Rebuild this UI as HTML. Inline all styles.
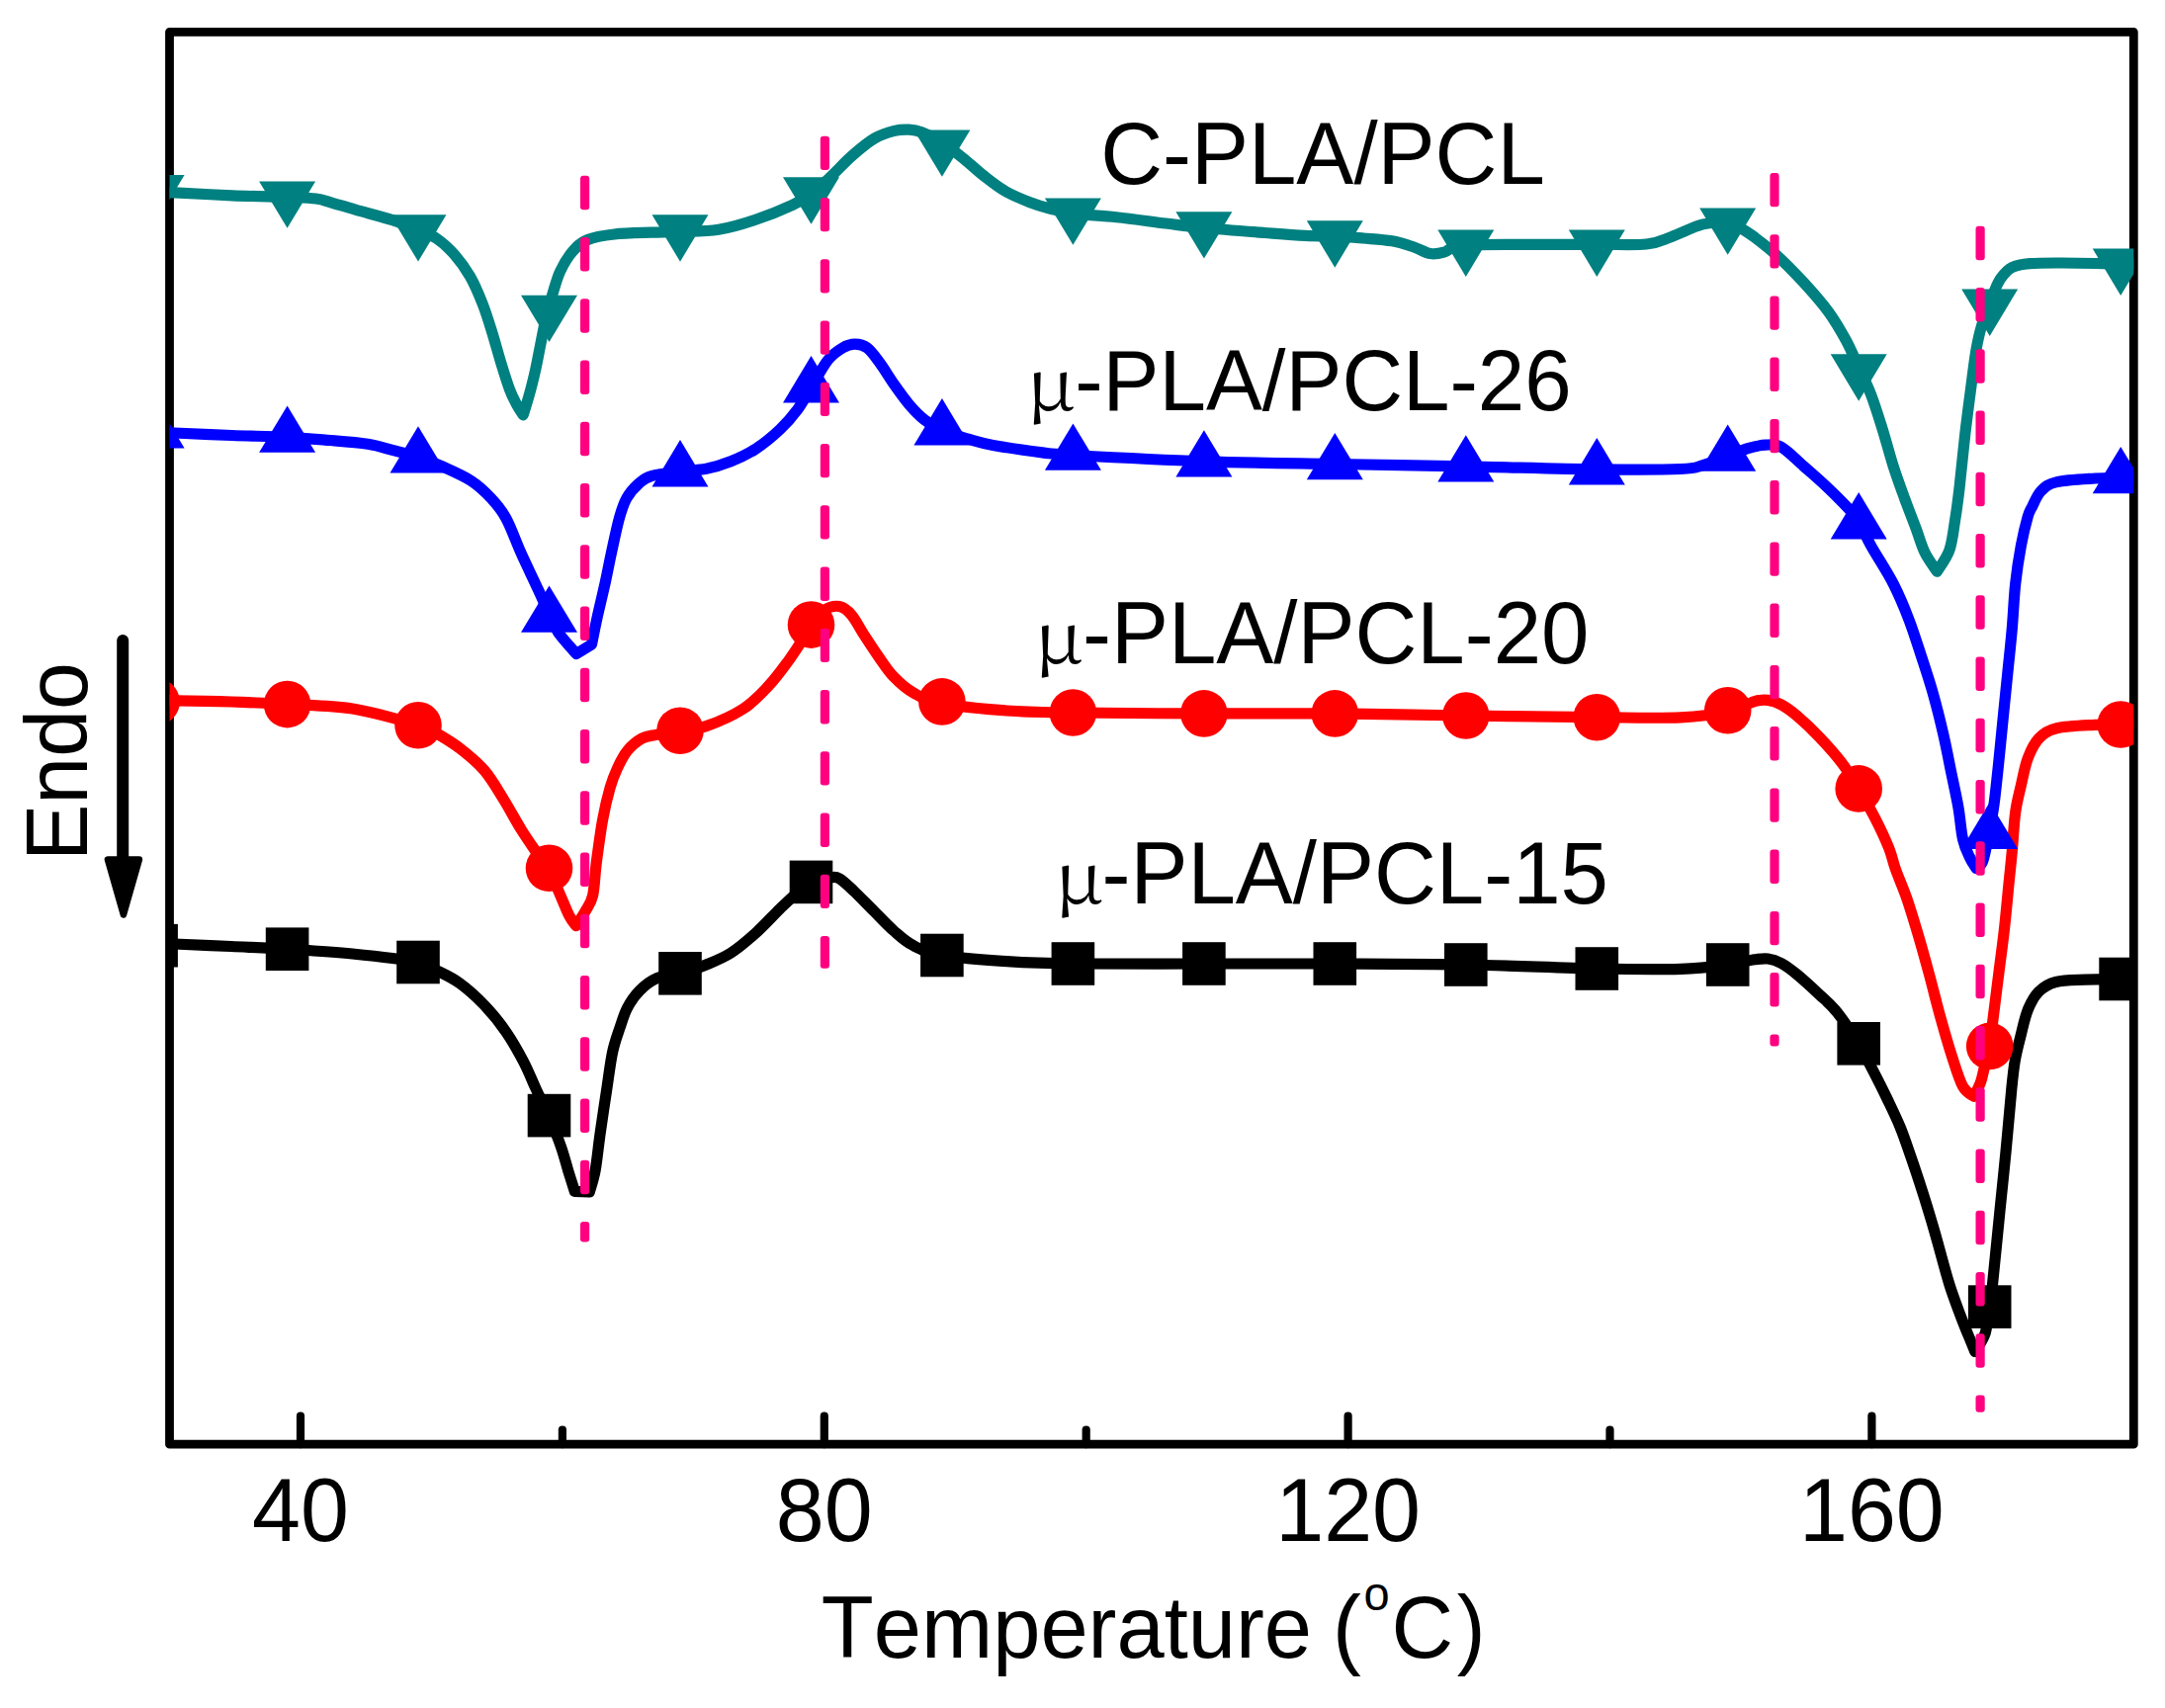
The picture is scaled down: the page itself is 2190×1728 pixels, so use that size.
<!DOCTYPE html>
<html><head><meta charset="utf-8"><title>DSC curves</title>
<style>
html,body{margin:0;padding:0;background:#fff;}
body{width:2190px;height:1728px;overflow:hidden;}
svg{display:block;}
svg text{font-family:"Liberation Sans",sans-serif;fill:#000;font-kerning:none;font-feature-settings:"kern" 0,"liga" 0;}
</style></head><body>
<svg width="2190" height="1728" viewBox="0 0 2190 1728">
<rect width="2190" height="1728" fill="#fff"/>
<rect x="171.5" y="32.3" width="1986.8000000000002" height="1428.9" fill="none" stroke="#000" stroke-width="8.8" stroke-linejoin="round"/>
<line x1="304.0" y1="1461.2" x2="304.0" y2="1432.7" stroke="#000" stroke-width="8.2" stroke-linecap="round"/>
<line x1="833.8" y1="1461.2" x2="833.8" y2="1432.7" stroke="#000" stroke-width="8.2" stroke-linecap="round"/>
<line x1="1363.6" y1="1461.2" x2="1363.6" y2="1432.7" stroke="#000" stroke-width="8.2" stroke-linecap="round"/>
<line x1="1893.4" y1="1461.2" x2="1893.4" y2="1432.7" stroke="#000" stroke-width="8.2" stroke-linecap="round"/>
<line x1="568.9" y1="1461.2" x2="568.9" y2="1446.6000000000001" stroke="#000" stroke-width="8.2" stroke-linecap="round"/>
<line x1="1098.7" y1="1461.2" x2="1098.7" y2="1446.6000000000001" stroke="#000" stroke-width="8.2" stroke-linecap="round"/>
<line x1="1628.5" y1="1461.2" x2="1628.5" y2="1446.6000000000001" stroke="#000" stroke-width="8.2" stroke-linecap="round"/>
<clipPath id="cp"><rect x="171.5" y="32.3" width="1986.8000000000002" height="1428.9"/></clipPath>
<g clip-path="url(#cp)">
<path d="M150.0,954.0C154.3,954.2 162.0,954.4 176.0,955.0C190.0,955.6 214.8,956.6 234.0,957.5C253.2,958.4 270.6,959.0 291.0,960.2C311.4,961.5 334.4,962.8 356.5,965.0C378.6,967.2 409.6,970.8 423.5,973.5C437.4,976.2 433.1,977.5 440.0,981.0C446.9,984.5 456.7,988.7 465.0,994.7C473.3,1000.7 482.1,1008.7 490.0,1017.0C497.9,1025.3 505.7,1035.0 512.3,1044.6C518.9,1054.2 524.8,1064.9 529.8,1074.5C534.8,1084.1 538.1,1093.0 542.3,1102.0C546.5,1111.0 550.8,1119.0 554.9,1128.6C559.0,1138.1 563.9,1150.0 567.2,1159.3C570.5,1168.6 572.4,1176.6 574.7,1184.3C577.1,1192.0 580.3,1202.1 581.3,1205.3C583.5,1205.4 594.0,1205.9 596.3,1206.0C597.2,1202.7 600.3,1194.1 602.1,1184.3C603.9,1174.5 605.2,1160.2 607.1,1146.9C609.0,1133.6 611.3,1118.1 613.4,1104.4C615.5,1090.7 617.3,1075.3 619.6,1064.5C621.9,1053.7 624.6,1047.1 627.1,1039.6C629.6,1032.1 631.3,1025.8 634.6,1019.6C637.9,1013.4 642.0,1007.2 647.0,1002.2C652.0,997.2 657.7,992.6 664.5,989.7C671.3,986.8 679.7,987.1 688.0,984.8C696.3,982.5 705.9,979.5 714.4,976.0C722.9,972.5 731.0,969.4 739.3,964.1C747.6,958.8 756.0,951.6 764.3,944.1C772.6,936.6 782.1,926.1 789.2,919.2C796.3,912.4 801.5,907.4 806.7,903.0C811.9,898.6 815.0,895.5 820.4,893.0C825.8,890.5 834.3,888.7 839.1,888.0C843.9,887.3 845.0,886.5 849.1,888.8C853.2,891.1 858.2,896.2 864.0,901.7C869.8,907.2 877.3,915.1 884.0,921.7C890.7,928.4 897.4,935.8 904.0,941.6C910.6,947.4 915.6,952.5 923.9,956.6C932.1,960.8 937.7,963.8 953.5,966.5C969.3,969.2 996.5,971.2 1018.5,972.6C1040.5,974.0 1052.4,974.6 1085.6,975.0C1118.8,975.4 1173.4,975.0 1217.5,975.0C1261.6,975.0 1305.8,974.8 1350.0,975.0C1394.2,975.2 1438.2,975.2 1482.4,976.0C1526.6,976.8 1578.6,979.3 1614.9,980.0C1651.2,980.7 1677.9,981.0 1700.0,980.3C1722.1,979.6 1735.1,977.6 1747.6,976.0C1760.1,974.4 1768.0,971.8 1774.8,970.8C1781.6,969.8 1783.9,969.4 1788.4,970.0C1792.9,970.6 1797.1,972.0 1802.0,974.6C1806.9,977.2 1811.4,980.6 1817.8,985.9C1824.2,991.2 1833.7,999.9 1840.5,1006.3C1847.3,1012.7 1852.0,1016.2 1858.6,1024.4C1865.2,1032.7 1873.9,1046.0 1879.9,1055.8C1885.9,1065.6 1890.0,1074.2 1894.8,1083.3C1899.5,1092.4 1903.9,1101.0 1908.4,1110.5C1912.9,1120.0 1917.8,1129.8 1922.0,1140.0C1926.2,1150.2 1929.6,1160.8 1933.4,1171.7C1937.2,1182.7 1941.3,1195.2 1944.7,1205.7C1948.1,1216.2 1951.1,1226.2 1953.7,1235.0C1956.3,1243.8 1957.5,1248.0 1960.5,1258.7C1963.5,1269.5 1968.1,1287.4 1971.9,1299.5C1975.7,1311.6 1979.8,1322.1 1983.2,1331.2C1986.6,1340.3 1989.8,1347.9 1992.3,1353.9C1994.8,1360.0 1997.1,1365.5 1997.9,1367.5C1999.4,1364.7 2005.9,1355.9 2008.2,1348.7C2010.5,1341.5 2010.6,1332.4 2011.8,1324.2C2013.0,1316.0 2013.7,1316.0 2015.5,1299.6C2017.3,1283.2 2020.6,1248.3 2022.9,1225.8C2025.2,1203.3 2027.1,1184.9 2029.1,1164.4C2031.1,1143.9 2033.2,1118.1 2034.7,1102.9C2036.2,1087.7 2036.7,1082.4 2038.2,1073.4C2039.7,1064.4 2041.6,1057.4 2043.8,1048.8C2046.0,1040.2 2048.1,1029.4 2051.2,1021.8C2054.3,1014.2 2057.5,1008.1 2062.2,1003.4C2066.9,998.7 2071.7,995.5 2079.5,993.5C2087.3,991.5 2098.1,991.6 2109.0,991.1C2119.9,990.6 2133.4,990.6 2145.2,990.5C2157.0,990.4 2174.2,990.5 2180.0,990.5" fill="none" stroke="#000000" stroke-width="11.2" stroke-linejoin="round" stroke-linecap="butt"/>
<g fill="#000000"><rect x="136.3" y="934.9" width="43.6" height="43.6"/><rect x="268.8" y="938.4" width="43.6" height="43.6"/><rect x="401.2" y="951.7" width="43.6" height="43.6"/><rect x="533.7" y="1106.8" width="43.6" height="43.6"/><rect x="666.2" y="963.0" width="43.6" height="43.6"/><rect x="798.7" y="870.6" width="43.6" height="43.6"/><rect x="931.1" y="944.7" width="43.6" height="43.6"/><rect x="1063.6" y="953.2" width="43.6" height="43.6"/><rect x="1196.1" y="953.2" width="43.6" height="43.6"/><rect x="1328.5" y="953.2" width="43.6" height="43.6"/><rect x="1461.0" y="954.2" width="43.6" height="43.6"/><rect x="1593.5" y="958.2" width="43.6" height="43.6"/><rect x="1725.9" y="954.2" width="43.6" height="43.6"/><rect x="1858.4" y="1034.0" width="43.6" height="43.6"/><rect x="1990.9" y="1300.3" width="43.6" height="43.6"/><rect x="2123.3" y="968.7" width="43.6" height="43.6"/></g>
<path d="M150.0,708.5C154.3,708.5 162.0,708.5 176.0,708.8C190.0,709.0 214.8,709.4 234.0,710.0C253.2,710.6 270.6,711.4 291.0,712.6C311.4,713.8 334.4,713.5 356.5,717.0C378.6,720.5 409.9,729.8 423.8,733.8C437.7,737.8 433.1,737.1 440.0,741.0C446.9,744.9 456.7,750.6 465.0,757.0C473.3,763.4 482.5,770.8 490.0,779.5C497.5,788.2 503.6,799.4 509.8,809.4C516.0,819.4 521.9,830.7 527.3,839.4C532.7,848.1 537.6,855.0 542.3,861.8C547.0,868.6 551.2,872.5 555.4,880.0C559.5,887.5 563.8,898.9 567.2,906.7C570.6,914.5 573.3,921.7 575.9,926.7C578.5,931.7 581.7,935.2 582.7,936.7C584.1,934.5 589.4,926.8 592.2,921.7C595.0,916.6 597.7,914.3 599.6,906.0C601.5,897.7 601.7,884.6 603.4,871.8C605.1,859.0 607.3,841.9 609.6,829.4C611.9,816.9 614.6,805.7 617.1,797.0C619.6,788.3 621.7,783.2 624.6,777.0C627.5,770.8 630.5,764.5 634.6,759.5C638.8,754.5 644.5,749.7 649.5,747.0C654.5,744.3 658.1,744.6 664.5,743.3C670.9,742.0 679.5,740.7 687.8,739.2C696.1,737.8 703.7,738.3 714.4,734.6C725.1,730.9 741.4,723.8 751.8,717.1C762.2,710.5 769.2,702.6 776.7,694.7C784.2,686.8 790.9,677.6 796.7,669.7C802.5,661.8 807.7,653.6 811.7,647.3C815.8,641.0 817.3,637.1 821.0,632.1C824.7,627.1 829.4,620.2 834.1,617.1C838.8,614.0 844.5,612.7 849.1,613.6C853.7,614.5 857.4,617.6 861.5,622.4C865.6,627.2 869.4,635.2 874.0,642.3C878.6,649.4 884.0,657.7 889.0,664.8C894.0,671.9 898.2,678.7 904.0,684.7C909.8,690.7 915.8,696.4 923.9,700.9C932.0,705.4 937.0,708.5 952.8,711.5C968.6,714.5 996.4,717.4 1018.5,719.0C1040.6,720.6 1052.4,720.5 1085.6,721.0C1118.8,721.5 1173.4,721.8 1217.5,721.9C1261.6,722.0 1305.8,721.5 1350.0,721.9C1394.2,722.2 1438.2,723.4 1482.4,724.0C1526.6,724.6 1578.6,725.4 1614.9,725.7C1651.2,726.0 1677.9,726.8 1700.0,725.8C1722.1,724.8 1735.2,722.7 1747.7,720.0C1760.2,717.3 1768.0,711.5 1774.8,709.6C1781.6,707.7 1783.9,707.8 1788.4,708.4C1792.9,709.0 1797.1,710.4 1802.0,713.0C1806.9,715.6 1811.4,718.8 1817.8,724.3C1824.2,729.8 1833.0,737.9 1840.5,745.8C1848.0,753.7 1856.5,763.2 1863.1,771.9C1869.7,780.6 1874.4,788.5 1880.1,797.9C1885.8,807.3 1892.0,818.5 1897.1,828.5C1902.2,838.5 1907.3,849.5 1910.7,858.0C1914.1,866.5 1914.5,871.0 1917.5,879.5C1920.5,888.0 1925.0,897.9 1928.8,908.9C1932.6,919.9 1936.3,932.4 1940.1,945.2C1943.9,958.0 1947.7,971.9 1951.5,985.9C1955.3,999.9 1959.0,1015.4 1962.8,1029.0C1966.6,1042.6 1970.3,1055.8 1974.1,1067.5C1977.9,1079.2 1981.7,1092.2 1985.5,1099.2C1989.3,1106.2 1995.1,1107.9 1996.8,1109.4C1997.8,1107.2 2001.7,1100.2 2003.6,1094.7C2005.5,1089.2 2006.5,1082.6 2008.1,1076.6C2009.6,1070.5 2011.6,1066.0 2012.9,1058.4C2014.2,1050.8 2014.5,1043.3 2016.0,1031.2C2017.5,1019.1 2019.8,1001.0 2021.7,985.9C2023.6,970.8 2025.7,955.7 2027.4,940.6C2029.1,925.5 2030.6,908.5 2031.9,895.3C2033.2,882.1 2034.2,873.6 2035.3,861.3C2036.4,849.0 2037.2,832.8 2038.7,821.7C2040.2,810.6 2042.3,803.6 2044.4,794.5C2046.5,785.4 2048.2,775.2 2051.2,767.3C2054.2,759.4 2057.6,752.1 2062.5,747.0C2067.4,741.9 2071.2,739.1 2080.6,736.8C2090.0,734.5 2108.2,734.0 2119.0,733.4C2129.8,732.8 2135.4,733.1 2145.6,733.0C2155.8,732.9 2174.3,733.0 2180.0,733.0" fill="none" stroke="#ff0000" stroke-width="11.2" stroke-linejoin="round" stroke-linecap="butt"/>
<g fill="#ff0000"><circle cx="158.1" cy="710.0" r="23.8"/><circle cx="290.6" cy="712.6" r="23.8"/><circle cx="423.0" cy="733.8" r="23.8"/><circle cx="555.5" cy="878.3" r="23.8"/><circle cx="688.0" cy="739.2" r="23.8"/><circle cx="820.5" cy="632.1" r="23.8"/><circle cx="952.9" cy="709.9" r="23.8"/><circle cx="1085.4" cy="721.0" r="23.8"/><circle cx="1217.9" cy="721.9" r="23.8"/><circle cx="1350.3" cy="721.9" r="23.8"/><circle cx="1482.8" cy="724.0" r="23.8"/><circle cx="1615.3" cy="725.7" r="23.8"/><circle cx="1747.7" cy="718.8" r="23.8"/><circle cx="1880.2" cy="797.9" r="23.8"/><circle cx="2012.7" cy="1058.4" r="23.8"/><circle cx="2145.2" cy="733.0" r="23.8"/></g>
<path d="M150.0,437.5C154.4,437.6 162.1,437.5 176.2,438.0C190.3,438.5 215.7,439.8 234.8,440.5C253.9,441.2 274.0,441.5 290.6,442.3C307.2,443.1 321.0,444.4 334.6,445.5C348.2,446.6 361.6,447.6 372.0,449.2C382.4,450.8 388.4,453.1 397.0,455.4C405.6,457.7 415.1,460.1 423.4,462.8C431.7,465.5 438.0,467.7 446.9,471.7C455.8,475.7 468.5,481.2 476.8,486.6C485.1,492.0 490.9,497.8 496.7,504.0C502.5,510.2 506.6,514.7 511.7,524.0C516.8,533.3 521.8,547.8 527.3,560.0C532.8,572.2 540.1,587.2 544.8,597.4C549.5,607.6 552.1,613.9 555.4,621.0C558.7,628.1 560.1,633.0 564.7,639.8C569.3,646.5 580.3,658.2 583.0,661.5C585.3,660.1 596.2,653.4 598.5,652.0C599.4,647.6 602.3,632.7 604.6,622.4C606.9,612.1 609.8,600.4 612.1,590.0C614.4,579.6 615.9,571.0 618.3,560.0C620.7,549.0 623.9,533.3 626.5,524.0C629.1,514.7 630.6,509.8 633.9,504.0C637.2,498.2 642.2,492.7 646.4,489.0C650.6,485.3 652.1,483.6 658.9,481.6C665.7,479.6 678.1,478.2 687.4,477.0C696.6,475.8 705.8,476.0 714.4,474.3C723.0,472.6 731.0,470.1 739.3,466.8C747.6,463.5 756.0,459.7 764.3,454.3C772.6,448.9 782.1,441.0 789.2,434.3C796.3,427.6 801.5,421.4 806.7,414.4C811.9,407.3 815.3,400.3 820.4,392.0C825.5,383.7 832.1,371.1 837.4,364.4C842.7,357.7 847.7,354.7 852.3,352.0C856.9,349.3 860.6,348.2 864.8,348.2C869.0,348.2 873.1,348.9 877.3,352.0C881.5,355.1 885.2,360.7 889.8,366.9C894.4,373.1 899.7,382.2 904.7,389.3C909.7,396.4 914.7,403.5 919.7,409.3C924.7,415.1 929.2,419.9 934.7,424.3C940.2,428.7 945.4,432.2 952.9,435.5C960.4,438.8 971.0,441.7 979.6,444.2C988.2,446.7 992.0,448.1 1004.5,450.4C1017.0,452.7 1040.9,456.2 1054.4,457.9C1067.9,459.6 1058.4,459.0 1085.6,460.5C1112.8,462.0 1173.4,465.3 1217.5,466.8C1261.6,468.3 1305.8,468.7 1350.0,469.5C1394.2,470.3 1438.2,470.9 1482.4,471.8C1526.6,472.7 1578.6,474.4 1614.9,474.8C1651.2,475.2 1682.0,475.2 1700.0,474.5C1718.0,473.8 1714.8,472.8 1722.7,470.6C1730.6,468.4 1740.0,464.3 1747.6,461.5C1755.1,458.7 1761.6,455.5 1768.0,453.6C1774.4,451.7 1780.3,450.4 1786.0,450.2C1791.7,450.0 1795.6,448.8 1802.0,452.4C1808.4,456.0 1817.0,465.1 1824.6,471.7C1832.1,478.3 1839.7,484.8 1847.3,492.0C1854.9,499.2 1864.6,508.9 1870.0,514.7C1875.4,520.5 1876.0,520.8 1879.8,527.0C1883.6,533.2 1886.7,541.5 1892.6,552.1C1898.5,562.7 1908.8,578.1 1915.2,590.6C1921.6,603.1 1926.1,614.1 1931.0,626.9C1935.9,639.7 1940.5,654.8 1944.7,667.6C1948.9,680.4 1952.4,691.0 1956.0,703.9C1959.6,716.8 1963.2,731.5 1966.2,744.7C1969.2,757.9 1971.6,771.1 1974.1,783.2C1976.6,795.3 1979.1,806.2 1981.0,817.2C1982.9,828.2 1983.6,840.6 1985.5,848.9C1987.4,857.2 1990.0,862.1 1992.3,867.0C1994.5,871.9 1998.0,876.8 1999.0,878.5C2000.0,877.4 2003.5,877.5 2005.8,871.0C2008.1,864.5 2010.7,849.5 2012.6,839.8C2014.5,830.1 2015.7,823.9 2017.2,812.6C2018.7,801.3 2020.2,786.2 2021.7,771.9C2023.2,757.6 2024.7,741.7 2026.2,726.6C2027.7,711.5 2029.3,696.3 2030.8,681.2C2032.3,666.1 2034.0,651.0 2035.3,635.9C2036.6,620.8 2037.2,604.6 2038.7,590.6C2040.2,576.6 2042.3,563.4 2044.4,552.1C2046.5,540.8 2049.3,529.3 2051.2,522.7C2053.1,516.1 2053.4,516.9 2055.7,512.5C2057.9,508.1 2060.5,500.8 2064.7,496.6C2068.8,492.5 2071.5,489.7 2080.6,487.6C2089.7,485.5 2108.2,484.7 2119.0,484.0C2129.8,483.3 2135.0,483.6 2145.2,483.5C2155.4,483.4 2174.2,483.5 2180.0,483.5" fill="none" stroke="#0000ff" stroke-width="11.2" stroke-linejoin="round" stroke-linecap="butt"/>
<g fill="#0000ff"><polygon points="129.6,453.5 186.6,453.5 158.1,406.1"/><polygon points="262.1,457.8 319.1,457.8 290.6,410.4"/><polygon points="394.5,478.6 451.5,478.6 423.0,431.2"/><polygon points="527.0,639.8 584.0,639.8 555.5,592.4"/><polygon points="659.5,492.4 716.5,492.4 688.0,445.0"/><polygon points="792.0,407.4 849.0,407.4 820.5,360.0"/><polygon points="924.4,450.5 981.4,450.5 952.9,403.1"/><polygon points="1056.9,475.8 1113.9,475.8 1085.4,428.4"/><polygon points="1189.4,482.6 1246.4,482.6 1217.9,435.2"/><polygon points="1321.8,485.3 1378.8,485.3 1350.3,437.9"/><polygon points="1454.3,487.6 1511.3,487.6 1482.8,440.2"/><polygon points="1586.8,490.4 1643.8,490.4 1615.3,443.0"/><polygon points="1719.2,476.8 1776.2,476.8 1747.7,429.4"/><polygon points="1851.7,545.5 1908.7,545.5 1880.2,498.1"/><polygon points="1984.2,859.0 2041.2,859.0 2012.7,811.6"/><polygon points="2116.7,499.3 2173.7,499.3 2145.2,451.9"/></g>
<path d="M150.0,193.5C154.4,193.7 162.1,194.1 176.2,194.8C190.3,195.5 215.7,197.0 234.8,197.8C253.9,198.6 276.5,199.0 290.6,199.5C304.7,200.0 312.3,200.1 319.6,201.0C326.9,201.9 328.0,202.9 334.6,204.8C341.2,206.7 349.1,209.2 359.5,212.2C369.9,215.2 386.3,219.3 397.0,222.7C407.7,226.1 416.0,229.4 423.5,232.5C431.0,235.6 435.9,237.4 441.9,241.5C447.9,245.6 453.7,250.8 459.3,257.1C464.9,263.5 470.7,271.3 475.5,279.6C480.3,287.9 484.2,297.4 488.0,307.0C491.8,316.6 494.9,327.0 498.0,337.0C501.1,347.0 503.8,357.4 506.7,366.9C509.6,376.4 512.9,387.0 515.5,394.0C518.1,401.0 520.2,404.7 522.5,409.0C524.8,413.3 528.2,418.2 529.2,419.8C530.1,416.7 533.3,406.9 535.4,399.3C537.5,391.7 539.7,382.7 541.6,374.4C543.5,366.1 544.9,357.7 546.6,349.4C548.3,341.1 550.1,330.9 551.6,324.5C553.1,318.1 554.1,315.6 555.4,311.0C556.6,306.4 557.2,303.1 559.1,297.0C561.0,290.9 563.3,281.7 566.6,274.6C569.9,267.6 574.4,260.0 579.0,254.7C583.6,249.4 586.9,245.6 594.0,242.7C601.1,239.8 610.7,238.2 621.5,237.0C632.3,235.8 647.9,235.6 658.9,235.2C669.9,234.8 676.1,235.0 687.4,234.5C698.7,234.0 714.1,234.3 726.9,232.3C739.7,230.3 751.8,226.5 764.3,222.3C776.8,218.1 792.4,211.6 801.7,207.3C811.1,203.0 814.2,201.1 820.4,196.5C826.6,191.9 832.0,186.5 839.0,180.0C846.0,173.5 854.7,164.0 862.3,157.3C869.9,150.6 877.7,144.1 884.8,139.9C891.9,135.8 898.9,133.9 904.7,132.4C910.5,130.9 915.1,131.0 919.7,131.2C924.3,131.4 926.7,131.5 932.2,133.7C937.7,135.9 945.8,140.1 952.9,144.5C960.0,148.9 967.7,154.8 974.6,160.3C981.5,165.8 987.4,171.8 994.5,177.3C1001.6,182.8 1009.1,188.9 1017.0,193.5C1024.9,198.1 1034.4,201.8 1041.9,204.7C1049.4,207.6 1054.6,209.1 1061.9,211.0C1069.2,212.9 1074.4,214.8 1085.6,216.2C1096.8,217.6 1113.6,218.1 1129.2,219.7C1144.8,221.3 1164.4,224.2 1179.1,226.0C1193.8,227.8 1200.9,228.9 1217.5,230.5C1234.1,232.1 1261.8,234.2 1278.9,235.5C1296.0,236.8 1308.2,237.8 1320.0,238.4C1331.8,239.0 1340.2,238.6 1350.0,239.0C1359.8,239.4 1369.3,240.2 1379.0,241.0C1388.7,241.8 1399.5,242.3 1408.0,243.8C1416.5,245.3 1423.7,247.9 1430.2,250.0C1436.7,252.1 1441.7,255.7 1446.8,256.6C1451.9,257.5 1457.0,256.2 1460.7,255.2C1464.4,254.2 1465.4,251.7 1469.0,250.5C1472.6,249.3 1470.6,248.3 1482.4,247.8C1494.2,247.3 1517.9,247.4 1540.0,247.3C1562.1,247.2 1594.0,247.4 1614.9,247.3C1635.8,247.2 1652.8,248.3 1665.5,247.0C1678.2,245.7 1681.5,242.8 1691.0,239.4C1700.5,236.1 1713.3,229.1 1722.7,226.9C1732.1,224.8 1740.4,225.3 1747.6,226.5C1754.8,227.7 1757.8,228.8 1765.7,233.8C1773.6,238.8 1785.4,247.8 1795.2,256.5C1805.0,265.2 1815.5,276.1 1824.6,285.9C1833.6,295.7 1842.3,305.6 1849.5,315.4C1856.7,325.2 1862.5,335.5 1867.6,344.8C1872.6,354.1 1875.6,361.9 1879.8,371.0C1884.0,380.1 1888.6,388.8 1892.6,399.2C1896.6,409.6 1900.1,421.1 1903.9,433.2C1907.7,445.3 1911.4,459.9 1915.2,471.7C1919.0,483.5 1922.7,493.6 1926.5,504.0C1930.3,514.4 1934.5,524.9 1937.9,534.0C1941.3,543.1 1943.4,551.5 1947.0,558.9C1950.6,566.3 1957.5,575.3 1959.4,578.2C1961.3,575.0 1968.9,565.1 1971.9,556.6C1974.9,548.1 1975.8,537.6 1977.5,527.2C1979.2,516.8 1980.3,508.5 1982.0,494.0C1983.7,479.5 1985.8,456.6 1987.7,440.0C1989.6,423.4 1991.5,409.1 1993.4,394.7C1995.3,380.3 1997.1,364.8 1999.0,353.9C2000.9,342.9 2002.4,336.6 2004.7,329.0C2007.0,321.4 2010.5,313.7 2012.6,308.0C2014.7,302.3 2015.3,299.4 2017.2,295.0C2019.1,290.6 2021.0,285.5 2024.0,281.4C2027.0,277.3 2030.4,272.9 2035.3,270.5C2040.2,268.1 2045.1,267.4 2053.4,266.7C2061.7,265.9 2072.2,266.0 2085.0,266.0C2097.8,266.0 2120.4,266.5 2130.4,266.7C2140.4,266.9 2136.9,266.9 2145.2,267.0C2153.5,267.1 2174.2,267.0 2180.0,267.0" fill="none" stroke="#008080" stroke-width="11.2" stroke-linejoin="round" stroke-linecap="butt"/>
<g fill="#008080"><polygon points="129.6,177.1 186.6,177.1 158.1,224.5"/><polygon points="262.1,183.4 319.1,183.4 290.6,230.8"/><polygon points="394.5,217.2 451.5,217.2 423.0,264.6"/><polygon points="527.0,298.7 584.0,298.7 555.5,346.1"/><polygon points="659.5,217.3 716.5,217.3 688.0,264.7"/><polygon points="792.0,179.3 849.0,179.3 820.5,226.7"/><polygon points="924.4,131.4 981.4,131.4 952.9,178.8"/><polygon points="1056.9,200.4 1113.9,200.4 1085.4,247.8"/><polygon points="1189.4,214.2 1246.4,214.2 1217.9,261.6"/><polygon points="1321.8,223.3 1378.8,223.3 1350.3,270.7"/><polygon points="1454.3,232.5 1511.3,232.5 1482.8,279.9"/><polygon points="1586.8,232.5 1643.8,232.5 1615.3,279.9"/><polygon points="1719.2,210.4 1776.2,210.4 1747.7,257.8"/><polygon points="1851.7,358.3 1908.7,358.3 1880.2,405.7"/><polygon points="1984.2,292.5 2041.2,292.5 2012.7,339.9"/><polygon points="2116.7,251.5 2173.7,251.5 2145.2,298.9"/></g>
</g>
<g fill="#ff0080"><rect x="587.0" y="177.8" width="9.2" height="34.4" rx="3"/><rect x="587.0" y="240.1" width="9.2" height="34.4" rx="3"/><rect x="587.0" y="302.3" width="9.2" height="34.4" rx="3"/><rect x="587.0" y="364.6" width="9.2" height="34.4" rx="3"/><rect x="587.0" y="426.8" width="9.2" height="34.4" rx="3"/><rect x="587.0" y="489.1" width="9.2" height="34.4" rx="3"/><rect x="587.0" y="551.3" width="9.2" height="34.4" rx="3"/><rect x="587.0" y="613.5" width="9.2" height="34.4" rx="3"/><rect x="587.0" y="675.8" width="9.2" height="34.4" rx="3"/><rect x="587.0" y="738.0" width="9.2" height="34.4" rx="3"/><rect x="587.0" y="800.3" width="9.2" height="34.4" rx="3"/><rect x="587.0" y="862.5" width="9.2" height="34.4" rx="3"/><rect x="587.0" y="924.8" width="9.2" height="34.4" rx="3"/><rect x="587.0" y="987.0" width="9.2" height="34.4" rx="3"/><rect x="587.0" y="1049.3" width="9.2" height="34.4" rx="3"/><rect x="587.0" y="1111.5" width="9.2" height="34.4" rx="3"/><rect x="587.0" y="1173.8" width="9.2" height="34.4" rx="3"/><rect x="587.0" y="1236.0" width="9.2" height="20.5" rx="3"/><rect x="829.8" y="137.7" width="9.2" height="34.4" rx="3"/><rect x="829.8" y="199.9" width="9.2" height="34.4" rx="3"/><rect x="829.8" y="262.2" width="9.2" height="34.4" rx="3"/><rect x="829.8" y="324.4" width="9.2" height="34.4" rx="3"/><rect x="829.8" y="386.7" width="9.2" height="34.4" rx="3"/><rect x="829.8" y="448.9" width="9.2" height="34.4" rx="3"/><rect x="829.8" y="511.2" width="9.2" height="34.4" rx="3"/><rect x="829.8" y="573.5" width="9.2" height="34.4" rx="3"/><rect x="829.8" y="635.7" width="9.2" height="34.4" rx="3"/><rect x="829.8" y="698.0" width="9.2" height="34.4" rx="3"/><rect x="829.8" y="760.2" width="9.2" height="34.4" rx="3"/><rect x="829.8" y="822.5" width="9.2" height="34.4" rx="3"/><rect x="829.8" y="884.7" width="9.2" height="34.4" rx="3"/><rect x="829.8" y="947.0" width="9.2" height="32.8" rx="3"/><rect x="1790.4" y="174.9" width="9.2" height="34.4" rx="3"/><rect x="1790.4" y="237.2" width="9.2" height="34.4" rx="3"/><rect x="1790.4" y="299.4" width="9.2" height="34.4" rx="3"/><rect x="1790.4" y="361.6" width="9.2" height="34.4" rx="3"/><rect x="1790.4" y="423.9" width="9.2" height="34.4" rx="3"/><rect x="1790.4" y="486.1" width="9.2" height="34.4" rx="3"/><rect x="1790.4" y="548.4" width="9.2" height="34.4" rx="3"/><rect x="1790.4" y="610.6" width="9.2" height="34.4" rx="3"/><rect x="1790.4" y="672.9" width="9.2" height="34.4" rx="3"/><rect x="1790.4" y="735.1" width="9.2" height="34.4" rx="3"/><rect x="1790.4" y="797.4" width="9.2" height="34.4" rx="3"/><rect x="1790.4" y="859.6" width="9.2" height="34.4" rx="3"/><rect x="1790.4" y="921.9" width="9.2" height="34.4" rx="3"/><rect x="1790.4" y="984.1" width="9.2" height="34.4" rx="3"/><rect x="1790.4" y="1046.4" width="9.2" height="12.0" rx="3"/><rect x="1998.5" y="228.8" width="9.2" height="34.4" rx="3"/><rect x="1998.5" y="291.1" width="9.2" height="34.4" rx="3"/><rect x="1998.5" y="353.3" width="9.2" height="34.4" rx="3"/><rect x="1998.5" y="415.6" width="9.2" height="34.4" rx="3"/><rect x="1998.5" y="477.8" width="9.2" height="34.4" rx="3"/><rect x="1998.5" y="540.0" width="9.2" height="34.4" rx="3"/><rect x="1998.5" y="602.3" width="9.2" height="34.4" rx="3"/><rect x="1998.5" y="664.5" width="9.2" height="34.4" rx="3"/><rect x="1998.5" y="726.8" width="9.2" height="34.4" rx="3"/><rect x="1998.5" y="789.0" width="9.2" height="34.4" rx="3"/><rect x="1998.5" y="851.3" width="9.2" height="34.4" rx="3"/><rect x="1998.5" y="913.5" width="9.2" height="34.4" rx="3"/><rect x="1998.5" y="975.8" width="9.2" height="34.4" rx="3"/><rect x="1998.5" y="1038.0" width="9.2" height="34.4" rx="3"/><rect x="1998.5" y="1100.3" width="9.2" height="34.4" rx="3"/><rect x="1998.5" y="1162.5" width="9.2" height="34.4" rx="3"/><rect x="1998.5" y="1224.8" width="9.2" height="34.4" rx="3"/><rect x="1998.5" y="1287.0" width="9.2" height="34.4" rx="3"/><rect x="1998.5" y="1349.3" width="9.2" height="34.4" rx="3"/><rect x="1998.5" y="1411.5" width="9.2" height="17.2" rx="3"/></g>
<text transform="translate(304.0,1558.5) scale(1,1.03)" font-size="88" text-anchor="middle">40</text>
<text transform="translate(833.8,1558.5) scale(1,1.03)" font-size="88" text-anchor="middle">80</text>
<text transform="translate(1363.6,1558.5) scale(1,1.03)" font-size="88" text-anchor="middle">120</text>
<text transform="translate(1893.4,1558.5) scale(1,1.03)" font-size="88" text-anchor="middle">160</text>
<text transform="translate(830.8,1676.9) scale(1,1.03)" font-size="86.7" text-anchor="start">Temperature</text>
<text transform="translate(1347.9,1676.9) scale(1,1.03)" font-size="86.7" text-anchor="start">(</text>
<text transform="translate(1379.6,1628.5) scale(1,1.03)" font-size="47" text-anchor="start">o</text>
<text transform="translate(1407.6,1676.9) scale(1,1.03)" font-size="86.7" text-anchor="start">C</text>
<text transform="translate(1473.8,1676.9) scale(1,1.03)" font-size="86.7" text-anchor="start">)</text>
<text transform="translate(1113.2,185.9) scale(1,1.03)" font-size="87" text-anchor="start">C-PLA/PCL</text>
<text transform="translate(1038.0,415.1) scale(1.1,1.0)" style="font-family:'Noto Serif CJK SC','Liberation Serif',serif" font-size="72" font-style="normal">μ</text>
<text transform="translate(1087.2,415.1) scale(1,1.03)" font-size="85.3" text-anchor="start">-PLA/PCL-26</text>
<text transform="translate(1045.9,671) scale(1.1,1.0)" style="font-family:'Noto Serif CJK SC','Liberation Serif',serif" font-size="72" font-style="normal">μ</text>
<text transform="translate(1095.0,671.0) scale(1,1.03)" font-size="87" text-anchor="start">-PLA/PCL-20</text>
<text transform="translate(1066.6,914) scale(1.1,1.0)" style="font-family:'Noto Serif CJK SC','Liberation Serif',serif" font-size="72" font-style="normal">μ</text>
<text transform="translate(1114.5,914.0) scale(1,1.03)" font-size="87" text-anchor="start">-PLA/PCL-15</text>
<text transform="translate(87.8,871.0) rotate(-90) scale(1,1.04)" font-size="86" text-anchor="start">Endo</text>
<line x1="124.2" y1="648" x2="124.2" y2="870" stroke="#000" stroke-width="12" stroke-linecap="round"/>
<polygon points="108.9,869.5 140.9,869.5 124.9,925.5" fill="#000" stroke="#000" stroke-width="6.5" stroke-linejoin="round"/>
</svg>
</body></html>
